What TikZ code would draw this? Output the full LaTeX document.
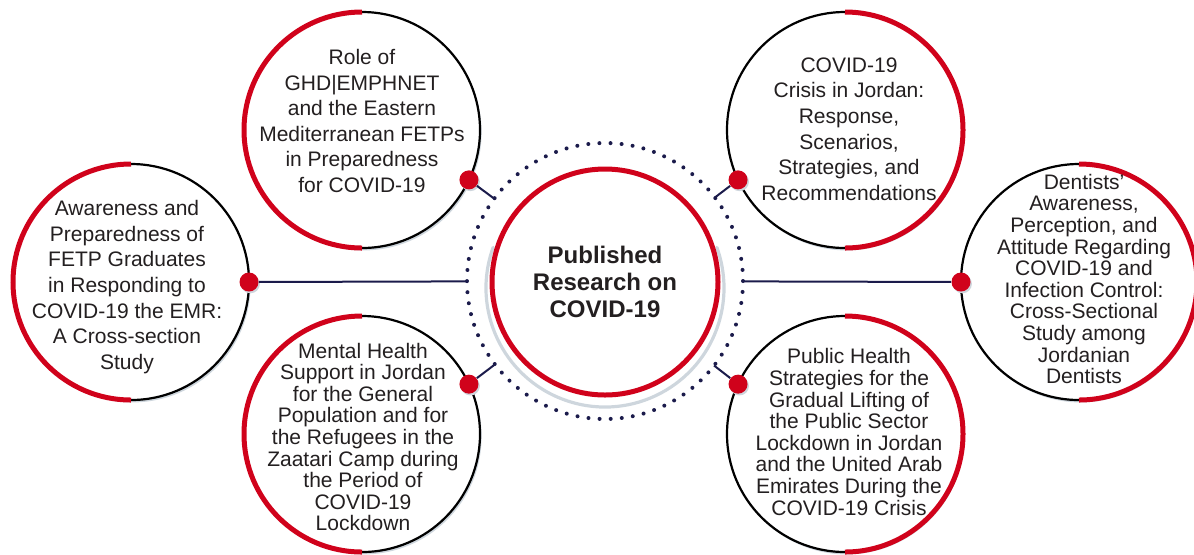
\documentclass[tikz,border=0pt]{standalone}
\usepackage{fontspec}
\setmainfont{Liberation Sans}
\usepackage{xcolor}
\usetikzlibrary{positioning,shadows}
\definecolor{cred}{RGB}{208,2,27}
\definecolor{cnavy}{RGB}{27,27,75}
\definecolor{cshade}{RGB}{206,214,221}
\definecolor{ctext}{RGB}{35,31,32}

\begin{document}
\begin{tikzpicture}[x=0.5pt,y=-0.5pt,
  topic/.style={circle, draw=black, line width=1.1pt, fill=white, minimum size=118pt, inner sep=0pt, outer sep=0pt,
    drop shadow={shadow xshift=0.8pt, shadow yshift=-1.2pt, fill=cshade, opacity=1}},
  redarc/.style={draw=cred, line width=2.5pt},
  dot/.style={circle, fill=cred, minimum size=9.5pt, inner sep=0pt,
    drop shadow={shadow xshift=0.7pt, shadow yshift=-0.9pt, fill=cshade, opacity=1}},
  link/.style={draw=cnavy, line width=1pt},
  topictext/.style={align=center, text=ctext, font=\fontsize{10.5}{12.8}\selectfont},
  densetext/.style={align=center, text=ctext, font=\fontsize{10.5}{10.8}\selectfont},
  ring/.style={circle, draw=cnavy, line width=2pt, dash pattern=on 0pt off 5.56pt, line cap=round,
    minimum size=138pt, inner sep=0pt, outer sep=0pt},
  hub/.style={circle, draw=cred, line width=2.5pt, fill=white, minimum size=113pt, inner sep=0pt,
    align=center, text=ctext, font=\fontsize{12}{13.5}\selectfont\bfseries}]
\useasboundingbox (0,0) rectangle (1194,554);

\node[ring] (ring) at (605,281) {};
\coordinate (hubshade) at (605,288);
\draw[cshade, line width=1.6pt, line cap=round] (hubshade) ++(160:59.5pt) arc[start angle=160, end angle=380, radius=59.5pt];
\node[hub] (hub) at (605,282) {Published\\Research on\\COVID-19};

\node[topic] (l) at (131,282) {};
\node[topic] (tl) at (362,130) {};
\node[topic] (bl) at (362,434) {};
\node[topic] (tr) at (845,130) {};
\node[topic] (br) at (845,434) {};
\node[topic] (r) at (1079,282) {};

\draw[redarc] (l.north) arc[start angle=90, end angle=270, radius=59pt];
\draw[redarc] (tl.north) arc[start angle=90, end angle=270, radius=59pt];
\draw[redarc] (bl.north) arc[start angle=90, end angle=270, radius=59pt];
\draw[redarc] (tr.north) arc[start angle=90, end angle=-90, radius=59pt];
\draw[redarc] (br.north) arc[start angle=90, end angle=-90, radius=59pt];
\draw[redarc] (r.north) arc[start angle=90, end angle=-90, radius=59pt];

\node[topictext] (ltext) at (127,287) {Awareness and\\Preparedness of\\FETP Graduates\\in Responding to\\COVID-19 the EMR:\\A Cross-section\\Study};
\node[topictext] (tltext) at (362,121) {Role of\\GHD|EMPHNET\\and the Eastern\\Mediterranean FETPs\\in Preparedness\\for COVID-19};
\node[densetext] (bltext) at (363,437) {Mental Health\\Support in Jordan\\for the General\\Population and for\\the Refugees in the\\Zaatari Camp during\\the Period of\\COVID-19\\Lockdown};
\node[topictext] (trtext) at (849,129) {COVID-19\\Crisis in Jordan:\\Response,\\Scenarios,\\Strategies, and\\Recommendations};
\node[densetext] (brtext) at (849,432) {Public Health\\Strategies for the\\Gradual Lifting of\\the Public Sector\\Lockdown in Jordan\\and the United Arab\\Emirates During the\\COVID-19 Crisis};
\node[densetext] (rtext) at (1084,279) {Dentists’\\Awareness,\\Perception, and\\Attitude Regarding\\COVID-19 and\\Infection Control:\\Cross-Sectional\\Study among\\Jordanian\\Dentists};

\node[dot] (ldot) at (l.east) {};
\node[dot] (tldot) at (tl.-25) {};
\node[dot] (bldot) at (bl.25) {};
\node[dot] (trdot) at (tr.-155) {};
\node[dot] (brdot) at (br.155) {};
\node[dot] (rdot) at (r.west) {};

\draw[link] (ldot) -- (ring);
\draw[link] (tldot) -- (ring);
\draw[link] (bldot) -- (ring);
\draw[link] (trdot) -- (ring);
\draw[link] (brdot) -- (ring);
\draw[link] (rdot) -- (ring);
\end{tikzpicture}
\end{document}
